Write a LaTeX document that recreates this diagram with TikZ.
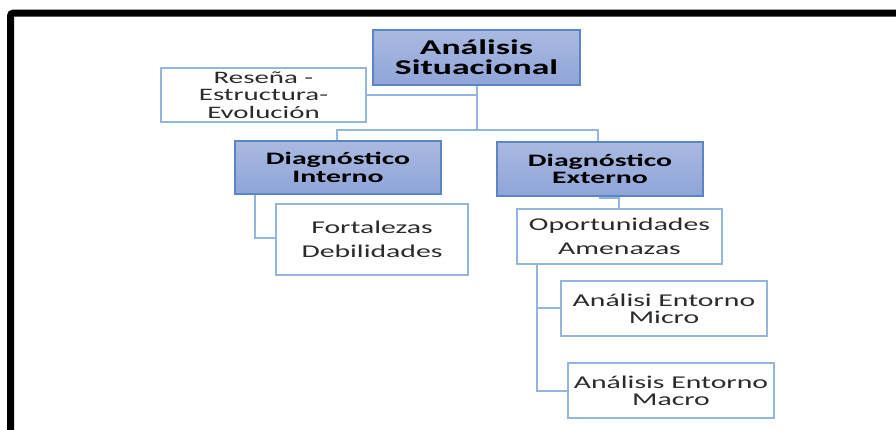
\documentclass[tikz,border=0pt]{standalone}
\usepackage{graphicx}
\usepackage{fontspec}
\setmainfont{Carlito}
\definecolor{boxtop}{HTML}{A9B9E1}
\definecolor{boxbot}{HTML}{8FA5D8}
\definecolor{boxedge}{HTML}{5B86C6}
\definecolor{lineblue}{HTML}{93B5E0}
\definecolor{txtgray}{HTML}{2B2B2B}
\newcommand\myWb[1]{\scalebox{1.7}[1]{#1}}
\newcommand\myWr[1]{\scalebox{1.65}[1]{#1}}
\tikzset{
  headbox/.style={draw=boxedge, line width=1.4pt, top color=boxtop, bottom color=boxbot,
    inner sep=0pt, align=center, font=\bfseries, text=black},
  plainbox/.style={draw=lineblue, line width=1.6pt, fill=white, inner sep=0pt,
    align=center, text=txtgray},
  conn/.style={draw=lineblue, line width=1.8pt}
}
\begin{document}
\begin{tikzpicture}[x=1pt,y=-1pt]
\useasboundingbox (0,0) rectangle (896,429);
\begin{scope}
\clip (0,0) rectangle (896,429);
\draw[line width=7pt, rounded corners=3pt] (10.5,13) rectangle (910,445);
\end{scope}
% nodes
\node[headbox, minimum width=207pt, minimum height=55pt,
  font=\fontsize{21}{20}\selectfont\bfseries] (top) at (476.5,57.5) {\myWb{Análisis}\\\myWb{Situacional}};
\node[plainbox, minimum width=205pt, minimum height=54pt,
  font=\fontsize{17.5}{17.5}\selectfont] (res) at (263.5,95) {\myWr{Reseña -}\\\myWr{Estructura-}\\\myWr{Evolución}};
\node[headbox, minimum width=206pt, minimum height=53pt,
  font=\fontsize{17.5}{17.5}\selectfont\bfseries] (int) at (338,167.5) {\myWb{Diagnóstico}\\\myWb{Interno}};
\node[headbox, minimum width=206pt, minimum height=54pt,
  font=\fontsize{17.5}{17.5}\selectfont\bfseries] (ext) at (600,169) {\myWb{Diagnóstico}\\\myWb{Externo}};
\node[plainbox, minimum width=192pt, minimum height=71pt,
  font=\fontsize{18}{24}\selectfont] (fort) at (372,239.5) {\myWr{Fortalezas}\\\myWr{Debilidades}};
\node[plainbox, minimum width=205pt, minimum height=55pt,
  font=\fontsize{18}{24}\selectfont] (opo) at (619.5,236.5) {\myWr{Oportunidades}\\\myWr{Amenazas}};
\node[plainbox, minimum width=206pt, minimum height=55pt,
  font=\fontsize{18}{17}\selectfont] (mic) at (664,308.5) {\myWr{Análisi Entorno}\\\myWr{Micro}};
\node[plainbox, minimum width=206pt, minimum height=55pt,
  font=\fontsize{18}{17}\selectfont] (mac) at (671,390.5) {\myWr{Análisis Entorno}\\\myWr{Macro}};
% connectors
\coordinate (j1) at (477,130);
\draw[conn] (top.south -| j1) -- (j1);
\draw[conn] (477,95) -- (res.east |- 0,95);
\draw[conn] (int.north -| 337,0) |- (j1) -| (ext.north -| 598,0);
\draw[conn] (int.south -| 255,0) |- (fort.west |- 0,238);
\draw[conn] (ext.south -| 600,0) -- (600,198) -| (opo.north -| 619,0);
\draw[conn] (opo.south -| 537,0) |- (mic.west |- 0,308);
\draw[conn] (opo.south -| 537,0) |- (mac.west |- 0,391);
\end{tikzpicture}
\end{document}
